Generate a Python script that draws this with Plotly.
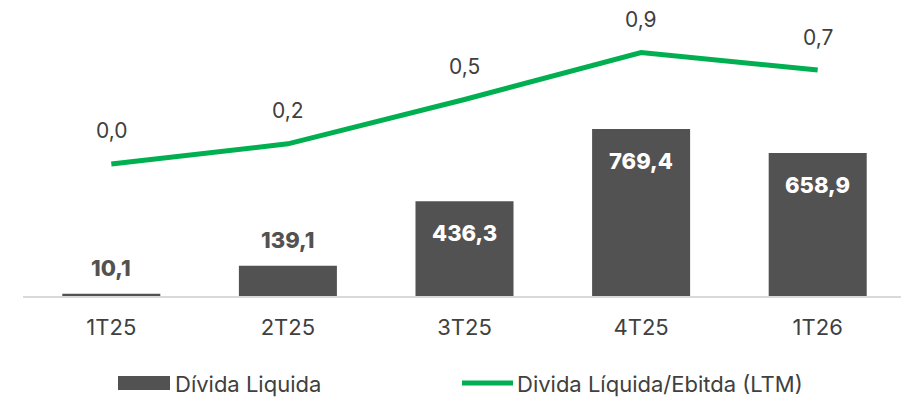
import plotly.graph_objects as go

categories = ["1T25", "2T25", "3T25", "4T25", "1T26"]
divida_liquida = [10.1, 139.1, 436.3, 769.4, 658.9]
divida_ebitda = [0.04, 0.19, 0.52, 0.87, 0.74]
bar_labels = ["10,1", "139,1", "436,3", "769,4", "658,9"]
ratio_labels = ["0,0", "0,2", "0,5", "0,9", "0,7"]
label_inside = [False, False, True, True, True]

BAR = "#525252"
GREEN = "#00B050"
TXT = "#404040"
FONT = "Inter, Lato, sans-serif"

OFF = 8  # page body margin
W, H = 909, 402
ML, MR, MT, MB = 15, 11, 0, 114
PW, PH = W - ML - MR, H - MT - MB

fig = go.Figure()
fig.add_trace(go.Bar(x=categories, y=divida_liquida, marker_color=BAR,
                     marker_line_width=0, name="Dívida Liquida",
                     showlegend=False, hoverinfo="skip"))
fig.add_trace(go.Scatter(x=categories, y=divida_ebitda, yaxis="y2", mode="lines",
                         line=dict(color=GREEN, width=5),
                         name="Divida Líquida/Ebitda (LTM)", showlegend=False,
                         hoverinfo="skip"))

ann = []
for c, v, t, inside in zip(categories, divida_liquida, bar_labels, label_inside):
    ann.append(dict(x=c, y=v, xref="x", yref="y", text=t, showarrow=False,
                    yshift=-32 if inside else 26,
                    font=dict(family=FONT, size=22, weight=800,
                              color="white" if inside else BAR)))
for c, v, t in zip(categories, divida_ebitda, ratio_labels):
    ann.append(dict(x=c, y=v, xref="x", yref="y2", text=t, showarrow=False, yshift=33,
                    font=dict(family=FONT, size=21, color=TXT)))

def px(x):
    return (x - OFF - ML) / PW

def py(y):
    return (H - MB - (y - OFF)) / PH

# custom legend
shapes = [
    dict(type="rect", xref="paper", yref="paper", x0=px(118), x1=px(170),
         y0=py(390), y1=py(376), fillcolor=BAR, line_width=0),
    dict(type="line", xref="paper", yref="paper", x0=px(462), x1=px(513),
         y0=py(383), y1=py(383), line=dict(color=GREEN, width=5)),
]
ann.append(dict(x=px(173), y=py(384), xref="paper", yref="paper", xanchor="left",
                yanchor="middle", text="Dívida Liquida", showarrow=False,
                font=dict(family=FONT, size=22, color=TXT)))
ann.append(dict(x=px(515), y=py(384), xref="paper", yref="paper", xanchor="left",
                yanchor="middle", text="Divida Líquida/Ebitda (LTM)", showarrow=False,
                font=dict(family=FONT, size=22, color=TXT)))

fig.update_layout(
    width=W, height=H,
    margin=dict(l=ML, r=MR, t=MT, b=MB),
    paper_bgcolor="white", plot_bgcolor="white",
    bargap=0.445,
    showlegend=False,
    xaxis=dict(showline=True, linecolor="#D9D9D9", linewidth=2, ticks="outside",
               ticklen=11, tickcolor="rgba(0,0,0,0)",
               tickfont=dict(family=FONT, size=22, color=TXT), showgrid=False),
    yaxis=dict(range=[0, 1327], visible=False, showgrid=False, zeroline=False),
    yaxis2=dict(range=[-0.944, 1.202], overlaying="y", visible=False,
                showgrid=False, zeroline=False),
    annotations=ann,
    shapes=shapes,
)

fig.write_html("out.html")
